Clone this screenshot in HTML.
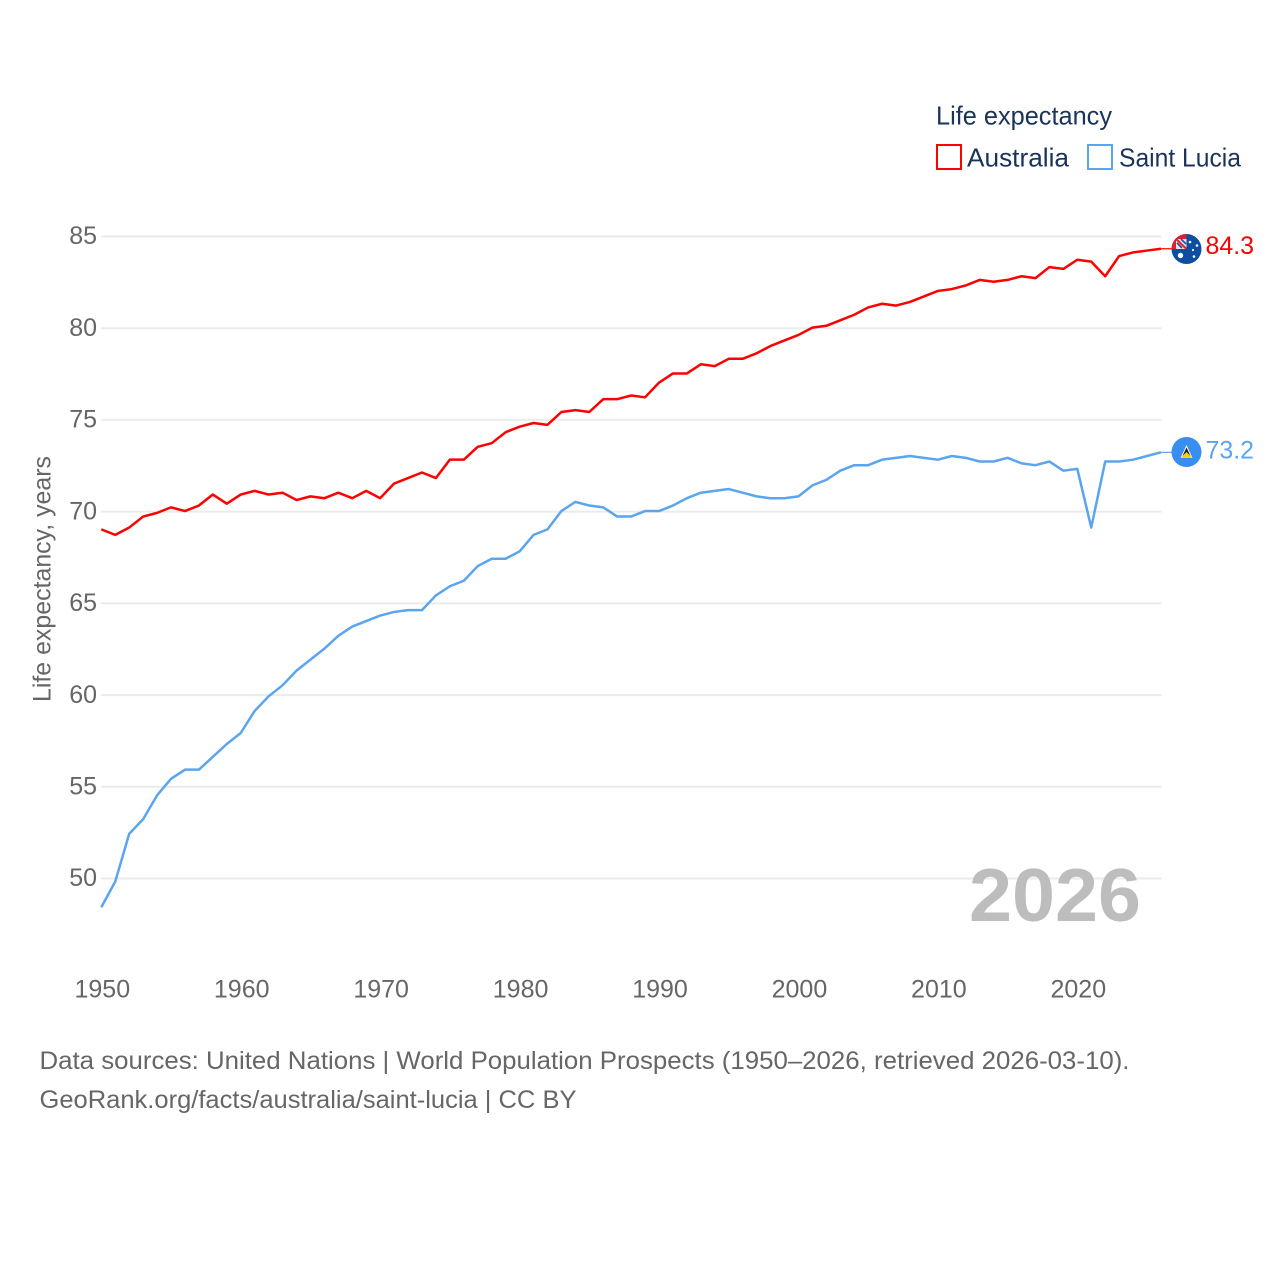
<!DOCTYPE html>
<html lang="en">
<head>
<meta charset="utf-8">
<title>Life expectancy: Australia and Saint Lucia</title>
<style>
html,body{margin:0;padding:0;background:#fff;width:1280px;height:1280px;overflow:hidden}
svg{display:block}
text{font-family:"Liberation Sans",Arial,sans-serif}
</style>
</head>
<body>
<svg id="chart" width="1280" height="1280" viewBox="0 0 1280 1280" xmlns="http://www.w3.org/2000/svg">
  <defs>
    <clipPath id="au-clip"><circle cx="1186.5" cy="249" r="15"/></clipPath>
    <clipPath id="lc-clip"><circle cx="1186.5" cy="452" r="15"/></clipPath>
  </defs>
  <rect x="0" y="0" width="1280" height="1280" fill="#ffffff"/>

  <g id="grid"></g>
  <g id="yticks"></g>
  <g id="xticks"></g>

  <text transform="translate(50.5,702) rotate(-90)" font-size="25" fill="#666666" textLength="246" lengthAdjust="spacingAndGlyphs">Life expectancy, years</text>

  <text x="969" y="921" font-size="75" font-weight="700" fill="#bdbdbd" textLength="172" lengthAdjust="spacingAndGlyphs">2026</text>

  <g id="series"></g>

  <g clip-path="url(#au-clip)">
    <rect x="1170" y="232" width="34" height="34" fill="#0b4ea2"/>
    <rect x="1170" y="232" width="16.5" height="17" fill="#d8232f"/>
    <polygon points="1176,239 1186.5,239 1186.5,249 1176,249" fill="#f3dfe4"/>
    <path d="M1175 238 L1186.5 249" stroke="#d8232f" stroke-width="2" fill="none"/>
    <path d="M1177 243 L1182 248 M1181 239 L1186 244" stroke="#1f4f9e" stroke-width="1.6" fill="none"/>
    <circle cx="1180.5" cy="255.5" r="2.7" fill="#ffffff"/>
    <circle cx="1190" cy="242" r="1.3" fill="#ffffff"/>
    <circle cx="1197" cy="245.5" r="1.3" fill="#ffffff"/>
    <circle cx="1193" cy="250" r="1.1" fill="#ffffff"/>
    <circle cx="1194" cy="256.5" r="1.3" fill="#ffffff"/>
  </g>
  <g clip-path="url(#lc-clip)">
    <rect x="1170" y="436" width="34" height="32" fill="#3a8ef0"/>
    <polygon points="1186.5,445 1192.5,458 1180.5,458" fill="#ffffff"/>
    <polygon points="1186.5,447.5 1190.5,456 1182.5,456" fill="#1d1d1d"/>
    <polygon points="1186.5,452 1192.5,458 1180.5,458" fill="#fcd116"/>
  </g>

  <text x="1205.5" y="254" font-size="25" fill="#ff0000" textLength="48.5" lengthAdjust="spacingAndGlyphs">84.3</text>
  <text x="1205.5" y="458.5" font-size="25" fill="#5ba4ee" textLength="48.5" lengthAdjust="spacingAndGlyphs">73.2</text>

  <g>
    <text x="936" y="124.5" font-size="26" fill="#1a3358" textLength="176" lengthAdjust="spacingAndGlyphs">Life expectancy</text>
    <g>
      <rect x="937" y="145" width="24" height="24" fill="#ffffff" stroke="#ff0000" stroke-width="2"/>
      <text x="967" y="166.5" font-size="26" fill="#1a3358" textLength="102" lengthAdjust="spacingAndGlyphs">Australia</text>
    </g>
    <g>
      <rect x="1088" y="145" width="24" height="24" fill="#ffffff" stroke="#5ba4ee" stroke-width="2"/>
      <text x="1119" y="166.5" font-size="26" fill="#1a3358" textLength="122" lengthAdjust="spacingAndGlyphs">Saint Lucia</text>
    </g>
  </g>

  <text x="39.5" y="1069" font-size="25" fill="#666666" textLength="1090" lengthAdjust="spacingAndGlyphs">Data sources: United Nations | World Population Prospects (1950–2026, retrieved 2026-03-10).</text>
  <text x="39.5" y="1108" font-size="25" fill="#666666" textLength="537" lengthAdjust="spacingAndGlyphs">GeoRank.org/facts/australia/saint-lucia | CC BY</text>
</svg>

<script>
const startYear = 1950;
const australiaValues = [69.0,68.7,69.1,69.7,69.9,70.2,70.0,70.3,70.9,70.4,70.9,71.1,70.9,71.0,70.6,70.8,70.7,71.0,70.7,71.1,70.7,71.5,71.8,72.1,71.8,72.8,72.8,73.5,73.7,74.3,74.6,74.8,74.7,75.4,75.5,75.4,76.1,76.1,76.3,76.2,77.0,77.5,77.5,78.0,77.9,78.3,78.3,78.6,79.0,79.3,79.6,80.0,80.1,80.4,80.7,81.1,81.3,81.2,81.4,81.7,82.0,82.1,82.3,82.6,82.5,82.6,82.8,82.7,83.3,83.2,83.7,83.6,82.8,83.9,84.1,84.2,84.3];
const saintLuciaValues = [48.4,49.8,52.4,53.2,54.5,55.4,55.9,55.9,56.6,57.3,57.9,59.1,59.9,60.5,61.3,61.9,62.5,63.2,63.7,64.0,64.3,64.5,64.6,64.6,65.4,65.9,66.2,67.0,67.4,67.4,67.8,68.7,69.0,70.0,70.5,70.3,70.2,69.7,69.7,70.0,70.0,70.3,70.7,71.0,71.1,71.2,71.0,70.8,70.7,70.7,70.8,71.4,71.7,72.2,72.5,72.5,72.8,72.9,73.0,72.9,72.8,73.0,72.9,72.7,72.7,72.9,72.6,72.5,72.7,72.2,72.3,69.1,72.7,72.7,72.8,73.0,73.2];
const yTickValues = [50,55,60,65,70,75,80,85];
const xTickValues = [1950,1960,1970,1980,1990,2000,2010,2020];

const SVG_NS = 'http://www.w3.org/2000/svg';
function xScale(year) { return 101.3 + (year - 1950) * (1077.3 - 101.3) / 70; }
function yScale(value) { return 878.5 - (value - 50) * (878.5 - 236.5) / 35; }
function yLine(value) { return yScale(value) - 0.6; }

const gridGroup = document.getElementById('grid');
const yTickGroup = document.getElementById('yticks');
const xTickGroup = document.getElementById('xticks');
const seriesGroup = document.getElementById('series');

yTickValues.forEach(function (v) {
  const line = document.createElementNS(SVG_NS, 'line');
  
  
  line.setAttribute('x1', 101);
  line.setAttribute('x2', 1161.5);
  line.setAttribute('y1', yScale(v));
  line.setAttribute('y2', yScale(v));
  line.setAttribute('stroke', '#ebebeb');
  line.setAttribute('stroke-width', 2);
  gridGroup.appendChild(line);

  const label = document.createElementNS(SVG_NS, 'text');
  
  
  label.setAttribute('x', 97);
  label.setAttribute('y', yScale(v) + 7.7);
  label.setAttribute('text-anchor', 'end');
  label.setAttribute('font-size', 25);
  label.setAttribute('fill', '#666666');
  label.textContent = v;
  yTickGroup.appendChild(label);
});

xTickValues.forEach(function (yr) {
  const label = document.createElementNS(SVG_NS, 'text');
  
  
  label.setAttribute('x', xScale(yr) + 1);
  label.setAttribute('y', 997.5);
  label.setAttribute('text-anchor', 'middle');
  label.setAttribute('font-size', 25);
  label.setAttribute('fill', '#666666');
  label.textContent = yr;
  xTickGroup.appendChild(label);
});

function drawSeries(values, color, name, gapEnd) {
  const pts = values.map(function (v, i) {
    return xScale(startYear + i).toFixed(2) + ',' + yLine(v).toFixed(2);
  });
  const path = document.createElementNS(SVG_NS, 'polyline');
  
  
  path.setAttribute('points', pts.join(' '));
  path.setAttribute('fill', 'none');
  path.setAttribute('stroke', color);
  path.setAttribute('stroke-width', 2.5);
  path.setAttribute('stroke-linejoin', 'round');
  seriesGroup.appendChild(path);

  const lastY = yLine(values[values.length - 1]);
  const leader = document.createElementNS(SVG_NS, 'line');
  
  
  leader.setAttribute('x1', xScale(startYear + values.length - 1));
  leader.setAttribute('x2', gapEnd);
  leader.setAttribute('y1', lastY);
  leader.setAttribute('y2', lastY);
  leader.setAttribute('stroke', color);
  leader.setAttribute('stroke-width', 1.2);
  seriesGroup.appendChild(leader);
}

drawSeries(australiaValues, '#ff0000', 'australia', 1172);
drawSeries(saintLuciaValues, '#5ba4ee', 'saint-lucia', 1172);
</script>
</body>
</html>
